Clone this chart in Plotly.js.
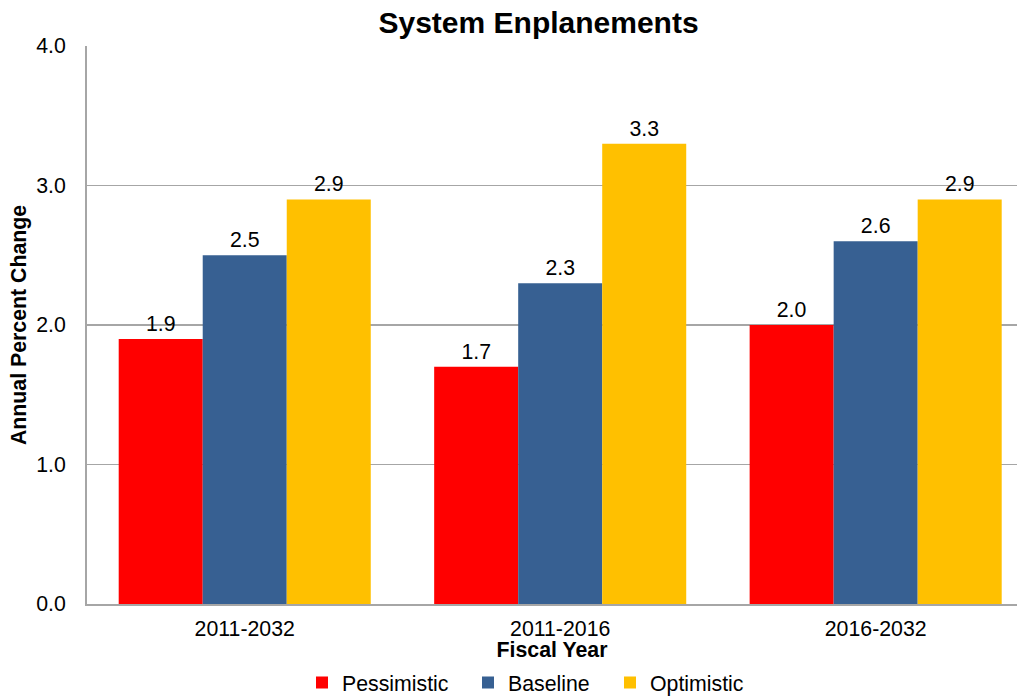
<!DOCTYPE html>
<html>
<head>
<meta charset="utf-8">
<script src="https://cdn.plot.ly/plotly-3.0.1.min.js"></script>
<style>html,body{margin:0;padding:0;background:#fff;}#chart{width:1020px;height:696px;}</style>
</head>
<body>
<div id="chart"></div>
<script>
const categories = ["2011-2032", "2011-2016", "2016-2032"];
const seriesNames = ["Pessimistic", "Baseline", "Optimistic"];
const pessimistic = [1.9, 1.7, 2.0];
const baseline = [2.5, 2.3, 2.6];
const optimistic = [2.9, 3.3, 2.9];
const yTickVals = [0, 1, 2, 3, 4];
const yTickText = ["0.0", "1.0", "2.0", "3.0", "4.0"];

const colors = ["#FF0000", "#376092", "#FFC000"];
const values = [pessimistic, baseline, optimistic];
const legendIds = ["legend", "legend2", "legend3"];
const legendX = [302, 468, 610];
const FONT = "Liberation Sans, Arial, sans-serif";
const FS = 21.3;

const traces = values.map((v, i) => ({
  type: "bar",
  name: seriesNames[i],
  legend: legendIds[i],
  x: categories,
  y: v,
  marker: {color: colors[i], line: {width: 0}},
  text: v.map(d => d.toFixed(1)),
  textposition: "outside",
  textfont: {family: FONT, size: FS, color: "#000"},
  cliponaxis: false,
  hoverinfo: "skip"
}));

const layout = {
  width: 1020, height: 696,
  margin: {l: 87, r: 3, t: 46, b: 92, autoexpand: false},
  paper_bgcolor: "#fff", plot_bgcolor: "#fff",
  font: {family: FONT, size: FS, color: "#000"},
  title: {text: "<b>System Enplanements</b>", font: {family: FONT, size: 30, color: "#000"},
          x: 0.528, xanchor: "center", y: 0.968, yanchor: "middle"},
  barmode: "group",
  bargap: 0.201,
  bargroupgap: 0,
  xaxis: {
    range: [-0.5, 2.448],
    showgrid: false, showline: true, linecolor: "#A6A6A6", linewidth: 2,
    ticks: "", ticklabelstandoff: 4, tickfont: {family: FONT, size: FS, color: "#000"},
    automargin: false,
    title: {text: "<b>Fiscal Year</b>", font: {family: FONT, size: FS, color: "#000"}, standoff: 0},
    fixedrange: true
  },
  yaxis: {
    range: [0, 4], tickvals: yTickVals, ticktext: yTickText,
    showgrid: true, gridcolor: "#A6A6A6", gridwidth: 1.5,
    showline: true, linecolor: "#A6A6A6", linewidth: 2,
    zeroline: false, ticks: "", ticklen: 0, ticklabelstandoff: 15,
    tickfont: {family: FONT, size: FS, color: "#000"},
    automargin: false,
    title: {text: "<b>Annual Percent Change</b>", font: {family: FONT, size: FS, color: "#000"}, standoff: 4},
    fixedrange: true
  },
  showlegend: true
};
legendIds.forEach((id, i) => {
  layout[id] = {
    orientation: "h", x: legendX[i] / 1020, xanchor: "left", xref: "container",
    y: 0.019, yanchor: "middle", yref: "container",
    font: {family: FONT, size: FS, color: "#000"},
    itemwidth: 30, bgcolor: "rgba(0,0,0,0)"
  };
});

Plotly.newPlot("chart", traces, layout, {displayModeBar: false, staticPlot: true});
</script>
</body>
</html>
